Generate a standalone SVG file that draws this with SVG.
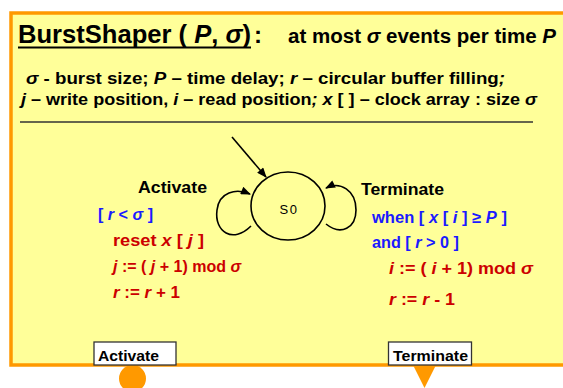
<svg xmlns="http://www.w3.org/2000/svg" width="563" height="388" viewBox="0 0 563 388">
<defs>
<marker id="ah" viewBox="0 0 10 8" refX="9" refY="4" markerWidth="11" markerHeight="8" markerUnits="userSpaceOnUse" orient="auto"><path d="M0,0 L10,4 L0,8 z" fill="#000"/></marker>
</defs>
<style>
text{font-family:"Liberation Sans",Arial,Helvetica,sans-serif;font-weight:bold}
.blk{fill:#000}
.blue{fill:#1a1aff}
.red{fill:#cc0000}
.it{font-style:italic}
.conn{fill:none;stroke:#000;stroke-width:1.6}
.port{fill:#fff;stroke:#333;stroke-width:1.3}
.pt{font-size:15.5px;fill:#000}
</style>
<g id="frame">
<rect x="11" y="13" width="570" height="352" fill="#ffff99" stroke="#ff9900" stroke-width="3.5"/>
</g>
<g id="title">
<text x="18" y="43" font-size="25.5" textLength="233" lengthAdjust="spacingAndGlyphs" class="blk">BurstShaper ( <tspan class="it">P</tspan>, <tspan class="it">σ</tspan>)</text>
<line x1="18" y1="47.5" x2="251" y2="47.5" stroke="#000" stroke-width="2"/>
<text x="254" y="43" font-size="24" class="blk">:</text>
<text x="288" y="43" font-size="20" textLength="268" lengthAdjust="spacingAndGlyphs" class="blk">at most <tspan class="it">σ</tspan> events per time <tspan class="it">P</tspan></text>
<text x="26" y="84" font-size="16" textLength="479" lengthAdjust="spacingAndGlyphs" class="blk"><tspan class="it">σ</tspan> - burst size;  <tspan class="it">P</tspan> – time delay;  <tspan class="it">r</tspan> – circular buffer filling<tspan class="it">;</tspan></text>
<text x="21" y="105" font-size="16" textLength="516" lengthAdjust="spacingAndGlyphs" class="blk"><tspan class="it">j</tspan> – write position, <tspan class="it">i</tspan> – read position<tspan class="it">; x</tspan> [ ] – clock array : size <tspan class="it">σ</tspan></text>
<line x1="20" y1="122" x2="533" y2="122" stroke="#333" stroke-width="1.5"/>
</g>
<g id="S0">
<ellipse cx="288" cy="206" rx="37" ry="34" fill="none" stroke="#000" stroke-width="1.6"/>
<text x="289" y="214" font-size="13" text-anchor="middle" letter-spacing="1.5" style="font-weight:normal" class="blk">S0</text>
</g>
<g id="connectors">
<path class="conn" d="M232,137 L266,177" marker-end="url(#ah)"/>
<path class="conn" d="M251,226 C233,244 214,232 217,210 C219,192 236,188 250,194" marker-end="url(#ah)"/>
<path class="conn" d="M326,224 C341,236 356,228 356,210 C356,190 340,181 326,188" marker-end="url(#ah)"/>
</g>
<g id="activate-label">
<text x="138" y="193" font-size="16.5" textLength="69" lengthAdjust="spacingAndGlyphs" class="blk">Activate</text>
<text x="98" y="220" font-size="16" textLength="55" lengthAdjust="spacingAndGlyphs" class="blue">[ <tspan class="it">r</tspan> &lt; <tspan class="it">σ</tspan> ]</text>
<text x="113" y="246" font-size="17" textLength="91" lengthAdjust="spacingAndGlyphs" class="red">reset <tspan class="it">x</tspan> [ <tspan class="it">j</tspan> ]</text>
<text x="113" y="272" font-size="16" class="red"><tspan class="it">j</tspan> := ( <tspan class="it">j</tspan> + 1) mod <tspan class="it">σ</tspan></text>
<text x="113" y="298" font-size="17" textLength="67" lengthAdjust="spacingAndGlyphs" class="red"><tspan class="it">r</tspan> := <tspan class="it">r</tspan> + 1</text>
</g>
<g id="terminate-label">
<text x="361" y="195" font-size="16.5" textLength="83" lengthAdjust="spacingAndGlyphs" class="blk">Terminate</text>
<text x="372" y="223" font-size="16" textLength="135" lengthAdjust="spacingAndGlyphs" class="blue">when  [ <tspan class="it">x</tspan> [ <tspan class="it">i</tspan> ] ≥ <tspan class="it">P</tspan> ]</text>
<text x="372" y="248" font-size="16" textLength="87" lengthAdjust="spacingAndGlyphs" class="blue">and  [ <tspan class="it">r</tspan> &gt; 0 ]</text>
<text x="389" y="274" font-size="17" textLength="144" lengthAdjust="spacingAndGlyphs" class="red"><tspan class="it">i</tspan> := ( <tspan class="it">i</tspan> + 1) mod <tspan class="it">σ</tspan></text>
<text x="389" y="305" font-size="17" textLength="66" lengthAdjust="spacingAndGlyphs" class="red"><tspan class="it">r</tspan> := <tspan class="it">r</tspan> - 1</text>
</g>
<g id="port-activate">
<circle cx="132.5" cy="378.5" r="13.5" fill="#ff9900"/>
<rect class="port" x="94" y="342" width="82" height="23"/>
<text class="pt" x="98" y="361" textLength="61" lengthAdjust="spacingAndGlyphs">Activate</text>
</g>
<g id="port-terminate">
<polygon points="413,365 436,365 424.5,388" fill="#ff9900"/>
<rect class="port" x="388.5" y="342" width="83" height="23"/>
<text class="pt" x="393" y="361" textLength="75" lengthAdjust="spacingAndGlyphs">Terminate</text>
</g>
</svg>
